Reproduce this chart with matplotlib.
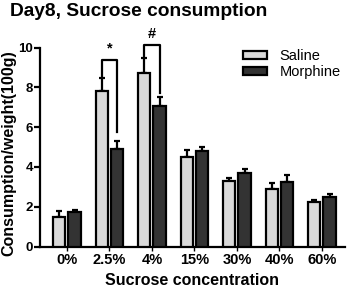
import matplotlib
matplotlib.use("Agg")
import matplotlib.pyplot as plt
import numpy as np

plt.rcParams['font.family'] = ['Liberation Sans', 'DejaVu Sans']
plt.rcParams['font.weight'] = 'bold'

concentrations = ['0%', '2.5%', '4%', '15%', '30%', '40%', '60%']
saline = [1.5, 7.83, 8.73, 4.48, 3.31, 2.88, 2.22]
saline_err = [0.27, 0.65, 0.77, 0.35, 0.12, 0.32, 0.1]
morphine = [1.75, 4.9, 7.05, 4.78, 3.68, 3.25, 2.5]
morphine_err = [0.1, 0.42, 0.45, 0.2, 0.2, 0.33, 0.14]

# significance brackets: (group index, top of bracket, right leg bottom, symbol)
brackets = [(1, 9.4, 5.75, '*'), (2, 10.15, 7.7, '#')]

fig = plt.figure(figsize=(3.47, 2.89), dpi=100)
ax = fig.add_axes([0.115, 0.147, 0.879, 0.688])

x = np.arange(len(concentrations))
w = 0.29
off = 0.18
lw = 1.6

ax.bar(x - off, saline, w, color='#d9d9d9', edgecolor='black', linewidth=lw,
       label='Saline', zorder=3)
ax.bar(x + off, morphine, w, color='#333333', edgecolor='black', linewidth=lw,
       label='Morphine', zorder=3)
ax.errorbar(x - off, saline, yerr=[np.zeros(len(x)), saline_err], fmt='none',
            ecolor='black', elinewidth=lw, capsize=2.3, capthick=lw, zorder=2)
ax.errorbar(x + off, morphine, yerr=[np.zeros(len(x)), morphine_err], fmt='none',
            ecolor='black', elinewidth=lw, capsize=2.3, capthick=lw, zorder=2)

for i, top, rbot, sym in brackets:
    lbot = saline[i] + saline_err[i]
    ax.plot([i - off, i - off, i + off, i + off], [lbot, top, top, rbot],
            color='black', linewidth=lw, clip_on=False, zorder=4)
    ax.text(i, top + 0.2, sym, ha='center', va='bottom', fontsize=10.5,
            fontweight='bold')

ax.set_xlim(-0.635, 6.54)
ax.set_ylim(0, 10)
ax.set_yticks([0, 2, 4, 6, 8, 10])
ax.set_xticks(x)
ax.set_xticklabels(concentrations)
ax.spines['top'].set_visible(False)
ax.spines['right'].set_visible(False)
ax.spines['left'].set_linewidth(lw)
ax.spines['bottom'].set_linewidth(lw)
ax.tick_params(axis='y', width=lw, length=4, labelsize=9.5, pad=1)
ax.tick_params(axis='x', width=1, length=3, labelsize=10.5, pad=2)
ax.set_xlabel('Sucrose concentration', fontsize=11.5, fontweight='bold', labelpad=4)
ax.set_ylabel('Consumption/weight(100g)', fontsize=11.5, fontweight='bold')
ax.yaxis.set_label_coords(-0.078, 0.47)

leg = fig.legend(loc='upper left', bbox_to_anchor=(243 / 347, 1 - 49 / 289),
                 frameon=False, fontsize=10.5, handlelength=1.65,
                 handleheight=0.5, handletextpad=0.85, labelspacing=0.15,
                 borderaxespad=0, borderpad=0)
for t in leg.get_texts():
    t.set_fontweight('normal')

fig.text(0.028, 0.96, 'Day8, Sucrose consumption', fontsize=13.8,
         fontweight='bold', ha='left', va='center')

fig.savefig('out.png', dpi=100)
